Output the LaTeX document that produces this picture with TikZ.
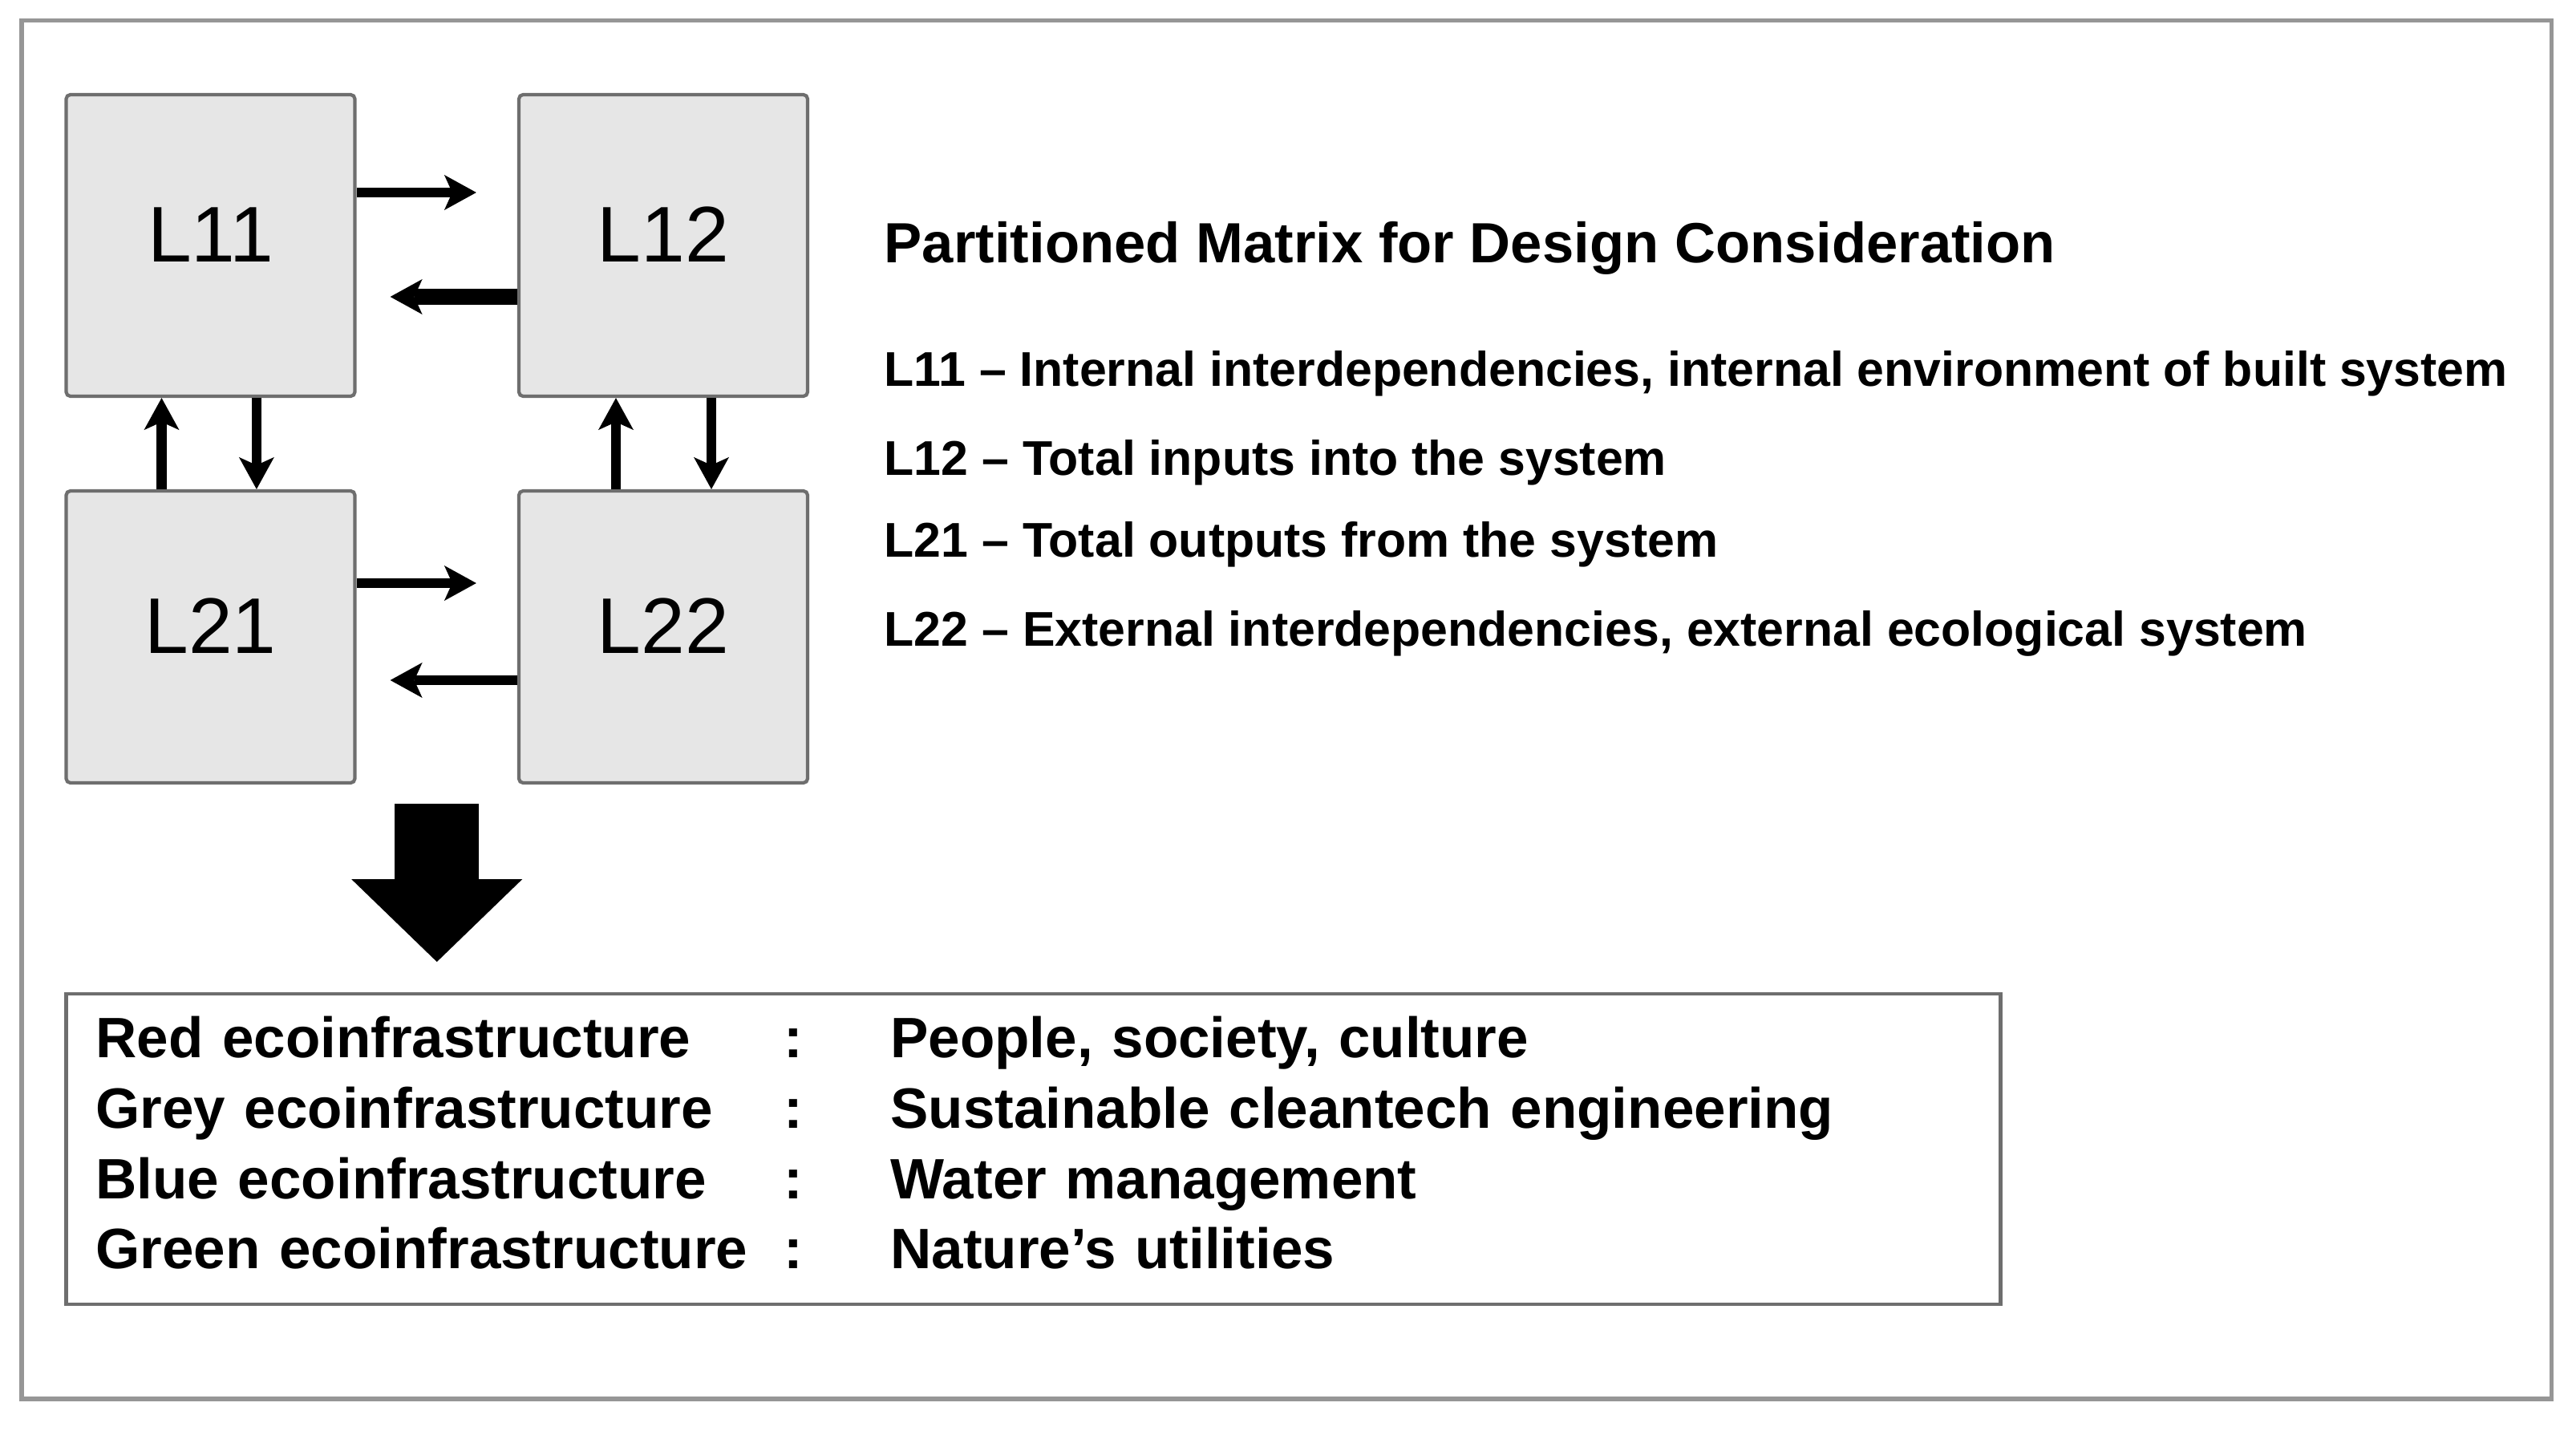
\documentclass[tikz,border=0pt]{standalone}
\usepackage{fontspec}
\setmainfont{Liberation Sans}
\usetikzlibrary{positioning,arrows.meta,calc}

\definecolor{boxfill}{RGB}{230,230,230}
\definecolor{boxline}{RGB}{110,110,110}
\definecolor{frameline}{RGB}{150,150,150}

\tikzstyle{matrixBox} = [rectangle, minimum width=3.6cm, minimum height=3.76cm, text centered, text depth=0.27cm, draw=boxline, line width=1.2pt, rounded corners=1.5pt, fill=boxfill, font=\fontsize{28}{32}\selectfont]
\tikzstyle{heading} = [inner sep=0pt, font=\bfseries\fontsize{20.1}{24}\selectfont]
\tikzstyle{legendLine} = [inner sep=0pt, font=\bfseries\fontsize{17.3}{20}\selectfont]
\tikzstyle{legendTable} = [rectangle, draw=boxline, line width=1.2pt, text width=23.38cm, inner xsep=0.37cm, minimum height=3.87cm, align=left, font=\bfseries\fontsize{20.2}{24.95}\selectfont]
\tikzstyle{arrow} = [line width=3.6pt, -{Stealth[length=0.4cm, width=0.44cm, inset=0.1cm, line width=0pt]}]
\tikzstyle{bigArrow} = [line width=1.05cm, -{Triangle[length=1.03cm, width=2.13cm, line width=0pt]}]
\tikzstyle{outerFrame} = [draw=frameline, line width=1.6pt]

\begin{document}
\begin{tikzpicture}[node distance=4.88cm]
    \useasboundingbox (0,0) rectangle (32.12,-17.84);
    \draw [outerFrame] (0.27,-0.255) rectangle (31.815,-17.44);

    \node (L11)[matrixBox] at (2.625,-3.06) {L11};
    \node (L12)[matrixBox, right of=L11, xshift=0.765cm] {L12};
    \node (L21)[matrixBox, below of=L11, minimum height=3.64cm] {L21};
    \node (L22)[matrixBox, right of=L21, xshift=0.765cm, minimum height=3.64cm] {L22};

    \node (title)[heading, right=0.93cm of L12, anchor=base west, yshift=-0.21cm] {Partitioned Matrix for Design Consideration};
    \node (d11)[legendLine, below=1.54cm of title.base west, anchor=base west] {L11 – Internal interdependencies, internal environment of built system};
    \node (d12)[legendLine, below=1.11cm of d11.base west, anchor=base west] {L12 – Total inputs into the system};
    \node (d21)[legendLine, below=1.025cm of d12.base west, anchor=base west] {L21 – Total outputs from the system};
    \node (d22)[legendLine, below=1.105cm of d21.base west, anchor=base west] {L22 – External interdependencies, external ecological system};

    \node (legend)[legendTable, below=2.59cm of L21.south west, anchor=north west] {%
        \begin{tabular}{@{}p{8.58cm}@{}p{1.33cm}@{}l@{}}
            Red ecoinfrastructure & : & People, society, culture\\
            Grey ecoinfrastructure & : & Sustainable cleantech engineering\\
            Blue ecoinfrastructure & : & Water management\\
            Green ecoinfrastructure & : & Nature’s utilities
        \end{tabular}};

    \draw [arrow, shorten >=0.51cm] ([yshift=0.66cm]L11.east) -- ([yshift=0.66cm]L12.west);
    \draw [arrow, line width=5.6pt, shorten >=0.42cm] ([yshift=-0.64cm]L12.west) -- ([yshift=-0.64cm]L11.east);
    \draw [arrow, shorten >=0.51cm] ([yshift=0.67cm]L21.east) -- ([yshift=0.67cm]L22.west);
    \draw [arrow, shorten >=0.42cm] ([yshift=-0.54cm]L22.west) -- ([yshift=-0.54cm]L21.east);
    \draw [arrow] ([xshift=-0.61cm]L21.north) -- ([xshift=-0.61cm]L11.south);
    \draw [arrow] ([xshift=0.574cm]L11.south) -- ([xshift=0.574cm]L21.north);
    \draw [arrow] ([xshift=-0.59cm]L22.north) -- ([xshift=-0.59cm]L12.south);
    \draw [arrow] ([xshift=0.6cm]L12.south) -- ([xshift=0.6cm]L22.north);

    \coordinate (gap) at ($(L21.south east)!0.5!(L22.south west)$);
    \draw [bigArrow, shorten <=0.24cm, shorten >=0.38cm] (gap) -- (gap |- legend.north);
\end{tikzpicture}
\end{document}
